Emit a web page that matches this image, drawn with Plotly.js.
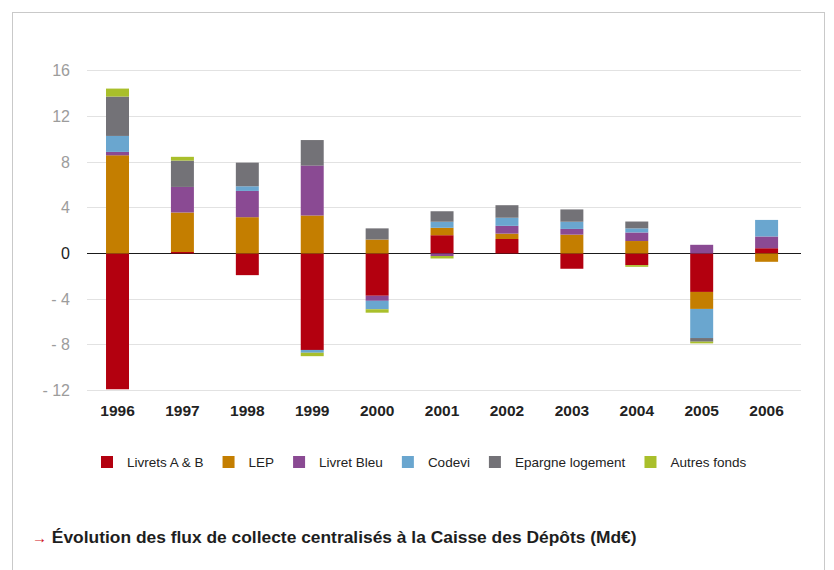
<!DOCTYPE html>
<html>
<head>
<meta charset="utf-8">
<script src="https://cdn.plot.ly/plotly-3.0.1.min.js"></script>
<style>
  html, body { margin: 0; padding: 0; background: #ffffff; }
  #wrap { position: relative; width: 834px; height: 570px; }
  #chart { position: absolute; left: 0; top: 0; width: 834px; height: 570px; }
  #frame { position: absolute; left: 12px; top: 12px; width: 813px; height: 570px;
           border-top: 1px solid #c9c9c9; border-left: 1px solid #c9c9c9; border-right: 1px solid #c9c9c9;
           pointer-events: none; box-sizing: border-box; }
</style>
</head>
<body>
<div id="wrap">
  <div id="chart"></div>
  <div id="frame"></div>
</div>
<script>
// Categories
const years = ['1996','1997','1998','1999','2000','2001','2002','2003','2004','2005','2006'];

// Series values (Md€)
const livretsAB   = [-11.9, 0.13, -1.9, -8.45, -3.71, 1.6, 1.27, -1.34, -1.02, -3.37, 0.46];
const lep         = [8.6, 3.46, 3.18, 3.33, 1.22, 0.65, 0.47, 1.65, 1.09, -1.49, -0.73];
const livretBleu  = [0.3, 2.24, 2.3, 4.37, -0.44, -0.22, 0.68, 0.5, 0.75, 0.76, 1.03];
const codevi      = [1.4, 0, 0.41, -0.25, -0.74, 0.53, 0.71, 0.63, 0.36, -2.55, 1.45];
const epargneLog  = [3.45, 2.31, 2.07, 2.24, 0.98, 0.92, 1.1, 1.08, 0.6, -0.32, 0];
const autresFonds = [0.7, 0.33, 0, -0.3, -0.3, -0.22, 0, 0, -0.15, -0.15, 0];

// Series names
const seriesNames = ['Livrets A & B', 'LEP', 'Livret Bleu', 'Codevi', 'Epargne logement', 'Autres fonds'];

// Y-axis ticks
const yTickVals = [-12, -8, -4, 0, 4, 8, 12, 16];
const yTickText = ['- 12', '- 8', '- 4', '<span style="color:#222">0</span>', '4', '8', '12', '16'];

const colors = ['#b3000f', '#c47e00', '#8a4a93', '#6aa6cf', '#737277', '#a9bf2b'];
const seriesValues = [livretsAB, lep, livretBleu, codevi, epargneLog, autresFonds];

const sans = '"Liberation Sans", Arial, sans-serif';

const traces = seriesValues.map((vals, i) => ({
  type: 'bar',
  name: seriesNames[i],
  x: years,
  y: vals,
  marker: { color: colors[i], line: { width: 0 } },
  hoverinfo: 'x+y+name'
}));

const layout = {
  width: 834,
  height: 570,
  paper_bgcolor: '#ffffff',
  plot_bgcolor: '#ffffff',
  barmode: 'relative',
  bargap: 0.646,
  margin: { l: 87, r: 33, t: 58, b: 178 },
  showlegend: true,
  legend: {
    orientation: 'h',
    x: 0.0,
    xanchor: 'left',
    y: -0.21,
    yanchor: 'middle',
    font: { family: sans, size: 13.5, color: '#222222' },
    traceorder: 'normal',
    itemwidth: 30
  },
  title: {
    text: '<span style="color:#d0101a;font-weight:normal;font-size:15px">→</span> Évolution des flux de collecte centralisés à la Caisse des Dépôts (Md€)',
    x: 32 / 834,
    xref: 'container',
    xanchor: 'left',
    y: 1 - 537 / 570,
    yref: 'container',
    yanchor: 'middle',
    font: { family: sans, size: 17.4, color: '#1e1e1e', weight: 'bold' }
  },
  xaxis: {
    type: 'category',
    range: [-0.47, 10.53],
    showgrid: false,
    zeroline: false,
    showline: false,
    ticks: '',
    tickfont: { family: sans, size: 15.5, color: '#222222', weight: 'bold' },
    ticklabelstandoff: 7,
    fixedrange: true
  },
  yaxis: {
    range: [-12.14, 17.13],
    tickvals: yTickVals,
    ticktext: yTickText,
    showgrid: true,
    gridcolor: '#e2e2e2',
    gridwidth: 1,
    zeroline: true,
    zerolinecolor: '#1a1a1a',
    zerolinewidth: 1.5,
    showline: false,
    ticks: '',
    tickfont: { family: sans, size: 16, color: '#9c9c9c' },
    ticklabelstandoff: 16,
    fixedrange: true
  }
};

Plotly.newPlot('chart', traces, layout, { displayModeBar: false, staticPlot: true });
</script>
</body>
</html>
